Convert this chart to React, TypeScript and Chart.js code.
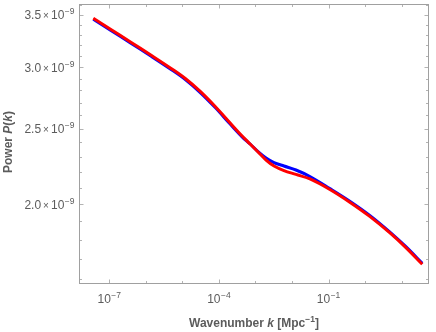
import React, { useEffect, useRef } from "react";
import { Chart, registerables } from "chart.js";

Chart.register(...registerables);

// log10 of wavenumber k [Mpc^-1]
const logK = [-7.436, -6.965, -6.419, -5.874, -5.328, -4.919, -4.51, -4.101, -3.692, -3.365, -3.147, -2.929, -2.71, -2.492, -2.22, -1.892, -1.511, -0.965, -0.42, 0.126, 0.671, 1.108, 1.563];
// Power P(k) in units of 1e-9
const redP = [3.466, 3.356, 3.232, 3.111, 2.992, 2.9, 2.791, 2.669, 2.542, 2.446, 2.389, 2.333, 2.278, 2.238, 2.208, 2.183, 2.154, 2.088, 2.011, 1.928, 1.837, 1.759, 1.673];
const blueP = [3.456, 3.346, 3.222, 3.102, 2.983, 2.891, 2.782, 2.661, 2.534, 2.44, 2.389, 2.336, 2.292, 2.261, 2.238, 2.212, 2.17, 2.094, 2.017, 1.934, 1.842, 1.764, 1.678];

const xMajorExp = [-7, -4, -1];
const xMinorExp = [-6, -5, -3, -2, 0, 1];
const yMajor = [2.0, 2.5, 3.0, 3.5];
const yMajorLabels = ["2.0", "2.5", "3.0", "3.5"];
const yMinor = [1.6, 1.7, 1.8, 1.9, 2.1, 2.2, 2.3, 2.4, 2.6, 2.7, 2.8, 2.9, 3.1, 3.2, 3.3, 3.4, 3.6];

const X_MIN = 1.585e-8;
const X_MAX = 52.5;
const Y_MIN = 1.583e-9;
const Y_MAX = 3.605e-9;

const FONT = "'Liberation Sans', Arial, sans-serif";
const TEXT = "#5c5c5c";

type Seg = { t: string; f: string; dy?: number; gap?: number };

function drawSegs(ctx: CanvasRenderingContext2D, segs: Seg[], x: number, y: number, align: "left" | "center" | "right") {
  let total = 0;
  const widths = segs.map((s) => {
    ctx.font = s.f;
    const w = ctx.measureText(s.t).width + (s.gap || 0);
    total += w;
    return w;
  });
  let cx = align === "left" ? x : align === "center" ? x - total / 2 : x - total;
  ctx.textAlign = "left";
  ctx.textBaseline = "alphabetic";
  segs.forEach((s, i) => {
    ctx.font = s.f;
    ctx.fillText(s.t, cx, y + (s.dy || 0));
    cx += widths[i];
  });
}

const framePlugin = {
  id: "mmaFrame",
  afterDraw(chart: any) {
    const { ctx, chartArea: a, scales } = chart;
    const xs = scales.x;
    const ys = scales.y;
    const L = Math.round(a.left) - 0.5;
    const R = Math.round(a.right) + 0.5;
    const T = Math.round(a.top) - 0.5;
    const B = Math.round(a.bottom) + 0.5;
    ctx.save();
    ctx.strokeStyle = "#b3b3b3";
    ctx.lineWidth = 1;
    const vt = (v: number, len: number) => {
      const px = Math.round(xs.getPixelForValue(v)) + 0.5;
      ctx.beginPath();
      ctx.moveTo(px, B);
      ctx.lineTo(px, B - len);
      ctx.moveTo(px, T);
      ctx.lineTo(px, T + len);
      ctx.stroke();
    };
    const ht = (v: number, len: number) => {
      const py = Math.round(ys.getPixelForValue(v)) + 0.5;
      ctx.beginPath();
      ctx.moveTo(L, py);
      ctx.lineTo(L + len, py);
      ctx.moveTo(R, py);
      ctx.lineTo(R - len, py);
      ctx.stroke();
    };
    xMajorExp.forEach((e) => vt(Math.pow(10, e), 4));
    xMinorExp.forEach((e) => vt(Math.pow(10, e), 2.5));
    yMajor.forEach((v) => ht(v * 1e-9, 4));
    yMinor.forEach((v) => ht(v * 1e-9, 2.5));
    ctx.strokeStyle = "#a0a0a0";
    ctx.strokeRect(L, T, R - L, B - T);

    ctx.fillStyle = TEXT;
    const base = `12px ${FONT}`;
    const sup = `8.5px ${FONT}`;
    xMajorExp.forEach((e) => {
      const px = xs.getPixelForValue(Math.pow(10, e));
      drawSegs(ctx, [
        { t: "10", f: base, gap: 0.5 },
        { t: "\u2212" + Math.abs(e), f: sup, dy: -5 },
      ], px, 302.5, "center");
    });
    yMajor.forEach((v, i) => {
      const py = ys.getPixelForValue(v * 1e-9);
      drawSegs(ctx, [
        { t: yMajorLabels[i], f: base, gap: 2 },
        { t: "\u00d7", f: `10px ${FONT}`, gap: 2 },
        { t: "10", f: base, gap: 0.5 },
        { t: "\u22129", f: sup, dy: -5 },
      ], 74.5, py + 4.5, "right");
    });
    const tb = `bold 12px ${FONT}`;
    const ti = `italic bold 12px ${FONT}`;
    drawSegs(ctx, [
      { t: "Wavenumber ", f: tb },
      { t: "k", f: ti },
      { t: " [Mpc", f: tb },
      { t: "\u22121", f: `bold 8.5px ${FONT}`, dy: -5 },
      { t: "]", f: tb },
    ], (a.left + a.right) / 2, 327, "center");
    ctx.translate(12, (a.top + a.bottom) / 2 - 2);
    ctx.rotate(-Math.PI / 2);
    drawSegs(ctx, [
      { t: "Power ", f: tb },
      { t: "P", f: ti },
      { t: "(", f: tb },
      { t: "k", f: ti },
      { t: ")", f: tb },
    ], 0, 0, "center");
    ctx.restore();
  },
};

export default function App() {
  const ref = useRef<HTMLCanvasElement | null>(null);
  useEffect(() => {
    if (!ref.current) return;
    const red = logK.map((lk, i) => ({ x: Math.pow(10, lk), y: redP[i] * 1e-9 }));
    const blue = logK.map((lk, i) => ({ x: Math.pow(10, lk), y: blueP[i] * 1e-9 }));
    const chart = new Chart(ref.current, {
      type: "line",
      data: {
        datasets: [
          { label: "red", data: red, borderColor: "#ff0000", borderWidth: 3, pointRadius: 0, tension: 0.35, fill: false },
          { label: "blue", data: blue, borderColor: "#0000ff", borderWidth: 3, pointRadius: 0, tension: 0.35, fill: false },
        ],
      },
      options: {
        animation: false,
        responsive: false,
        layout: { padding: { left: 80, right: 8, top: 5, bottom: 49 } },
        plugins: { legend: { display: false }, tooltip: { enabled: false } },
        scales: {
          x: { type: "logarithmic", min: X_MIN, max: X_MAX, display: false },
          y: { type: "logarithmic", min: Y_MIN, max: Y_MAX, display: false },
        },
      },
      plugins: [framePlugin],
    } as any);
    return () => chart.destroy();
  }, []);
  return (
    <div style={{ position: "absolute", left: 0, top: 0, width: 436, height: 332, background: "#fff" }}>
      <canvas ref={ref} width={436} height={332} />
    </div>
  );
}
